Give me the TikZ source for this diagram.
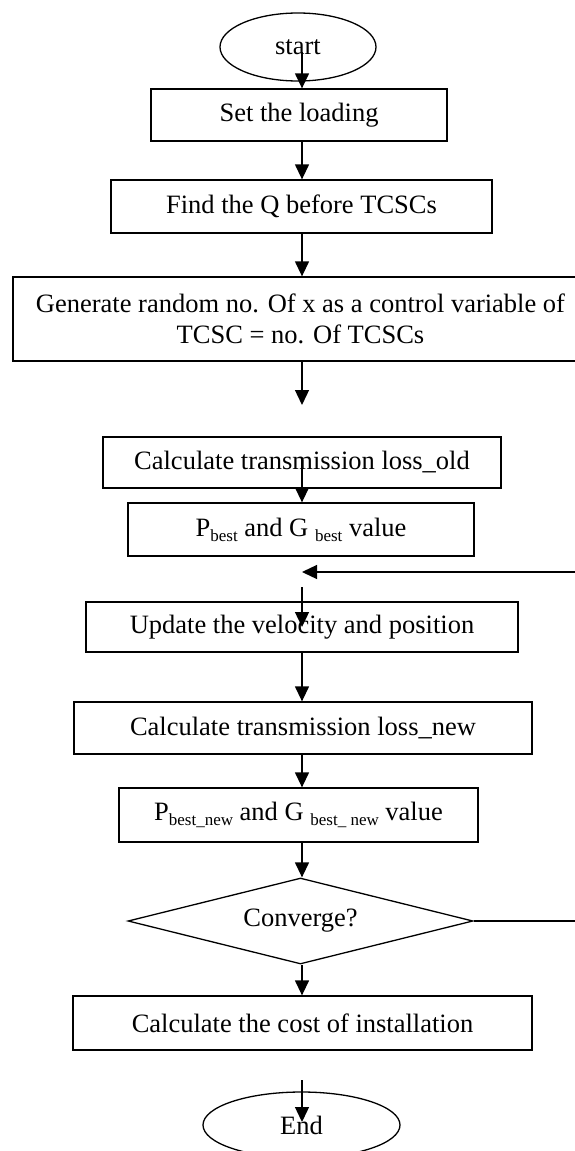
\documentclass[tikz,border=0pt]{standalone}
\usepackage{fontspec}
\setmainfont{Liberation Serif}
\usetikzlibrary{arrows.meta,shapes.geometric}
\newcommand{\lowsub}[1]{\raisebox{-5pt}{\fontsize{17}{17}\selectfont #1}}
\begin{document}
\begin{tikzpicture}[x=1pt,y=-1pt,
  every node/.style={font=\fontsize{26.5}{31}\selectfont, inner sep=0pt, line width=1.3pt},
  procbox/.style={draw, rectangle, align=center},
  termbox/.style={draw, ellipse},
  decbox/.style={draw, diamond, shape aspect=4},
  flow/.style={line width=1.3pt, -{Triangle[length=15pt,width=14pt]}},
  plain/.style={line width=1.3pt}]
\useasboundingbox (0,0) rectangle (575,1151);
\clip (0,0) rectangle (575,1151);

% terminals, process boxes and the decision
\node[termbox, minimum width=156pt, minimum height=68pt] (start) at (298,47) {start};
\node[procbox, minimum width=296pt, minimum height=52pt] (load) at (299,115) {Set the loading};
\node[procbox, minimum width=381pt, minimum height=53pt] (findq) at (301.5,206.5) {Find the Q before TCSCs};
\node[procbox, minimum width=575pt, minimum height=84pt] (gen) at (300.5,319) {Generate random no. Of x as a control variable of\\TCSC = no. Of TCSCs};
\node[procbox, minimum width=398pt, minimum height=51pt] (lossold) at (302,462.5) {Calculate transmission loss\_old};
\node[procbox, minimum width=346pt, minimum height=53pt] (best) at (301,529.5) {P\lowsub{best} and G \lowsub{best} value};
\node[procbox, minimum width=432pt, minimum height=50pt] (upd) at (302,627) {Update the velocity and position};
\node[procbox, minimum width=458pt, minimum height=52pt] (lossnew) at (303,728) {Calculate transmission loss\_new};
\node[procbox, minimum width=359pt, minimum height=54pt] (bestnew) at (298.5,815) {P\lowsub{best\_new} and G \lowsub{best\_ new} value};
\node[decbox, minimum width=345pt, minimum height=86pt] (conv) at (300.5,921) {Converge?};
\node[procbox, minimum width=459pt, minimum height=54pt] (cost) at (302.5,1023) {Calculate the cost of installation};
\node[termbox, minimum width=197pt, minimum height=66pt] (stop) at (301.5,1125) {End};

% connector end points
\coordinate (s0) at (302,52);
\coordinate (g1) at (302,405);
\coordinate (o0) at (302,458);
\coordinate (r0) at (575,572);
\coordinate (r1) at (302,572);
\coordinate (u0) at (302,587);
\coordinate (u1) at (302,627);
\coordinate (c1) at (575,921);
\coordinate (e0) at (302,1080);
\coordinate (e1) at (302,1122);

% connectors
\draw[flow] (s0) -- (s0 |- load.north);
\draw[flow] (load.south -| s0) -- (s0 |- findq.north);
\draw[flow] (findq.south -| s0) -- (s0 |- gen.north);
\draw[flow] (gen.south -| s0) -- (g1);
\draw[flow] (o0) -- (o0 |- best.north);
\draw[flow] (r0) -- (r1);
\draw[flow] (u0) -- (u1);
\draw[flow] (upd.south -| s0) -- (s0 |- lossnew.north);
\draw[flow] (lossnew.south -| s0) -- (s0 |- bestnew.north);
\draw[flow] (bestnew.south -| s0) -- (s0 |- conv.north);
\draw[plain] (conv.east) -- (c1);
\draw[flow] (conv.south -| s0) -- (s0 |- cost.north);
\draw[flow] (e0) -- (e1);
\end{tikzpicture}
\end{document}
